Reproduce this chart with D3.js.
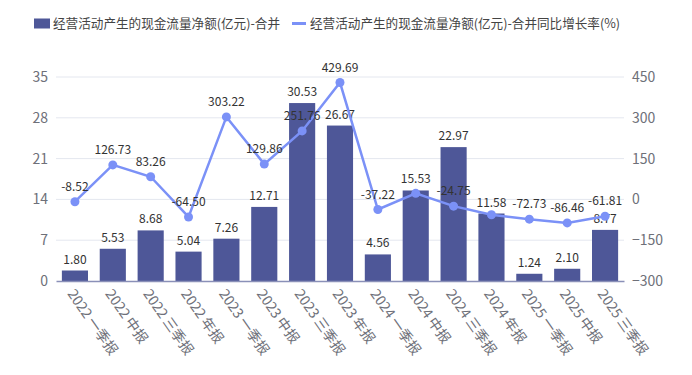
<!DOCTYPE html>
<html lang="zh">
<head>
<meta charset="utf-8">
<title>经营活动产生的现金流量净额</title>
<style>
    body { margin : 0; background : #fff; }
    svg text { font-family : "Noto Sans CJK SC", "Noto Sans", sans-serif; }
</style>
</head>
<body>
<div id="chart"></div>
<script src="https://cdn.jsdelivr.net/npm/d3@7"></script>
<script>

var categories = [ "2022 一季报" , "2022 中报" , "2022 三季报" , "2022 年报" ,
                   "2023 一季报" , "2023 中报" , "2023 三季报" , "2023 年报" ,
                   "2024 一季报" , "2024 中报" , "2024 三季报" , "2024 年报" ,
                   "2025 一季报" , "2025 中报" , "2025 三季报" ];
var cashflow = [ 1.80 , 5.53 , 8.68 , 5.04 , 7.26 , 12.71 , 30.53 , 26.67 , 4.56 , 15.53 , 22.97 , 11.58 , 1.24 , 2.10 , 8.77 ];
var growth = [ -8.52 , 126.73 , 83.26 , -64.50 , 303.22 , 129.86 , 251.76 , 429.69 , -37.22 , 22.19 , -24.75 , -56.58 , -72.73 , -86.46 , -61.81 ];
// labels the chart library dropped because they overlapped
var hiddenGrowthLabels = [ 9 , 11 ];
var leftTicks = [ 0 , 7 , 14 , 21 , 28 , 35 ];
var rightTicks = [ -300 , -150 , 0 , 150 , 300 , 450 ];
var seriesNames = [ "经营活动产生的现金流量净额(亿元)-合并" , "经营活动产生的现金流量净额(亿元)-合并同比增长率(%)" ];

var width = 692 , height = 375;
var barColor = "#4e5798" , lineColor = "#7b91f7";
var plot = { left : 56 , right : 624 , top : 77 , bottom : 281 };

var svg = d3.select( "#chart" ).append( "svg" )
    .attr( "width" , width )
    .attr( "height" , height );

var x = d3.scaleBand()
    .domain( categories )
    .range( [ plot.left , plot.right ] )
    .paddingInner( 0.31 )
    .paddingOuter( 0.155 );

var yLeft = d3.scaleLinear().domain( [ 0 , 35 ] ).range( [ plot.bottom , plot.top ] );
var yRight = d3.scaleLinear().domain( [ -300 , 450 ] ).range( [ plot.bottom , plot.top ] );

// grid
svg.append( "g" ).selectAll( "line" )
    .data( leftTicks.slice( 1 ) )
    .enter().append( "line" )
        .attr( "x1" , plot.left )
        .attr( "x2" , plot.right )
        .attr( "y1" , function( d ) { return yLeft( d ); } )
        .attr( "y2" , function( d ) { return yLeft( d ); } )
        .style( "stroke" , "#e4e7ef" )
        .style( "stroke-width" , 1 );

// left axis
var gl = svg.append( "g" )
    .attr( "transform" , "translate(" + ( plot.left - 8 ) + ",0)" )
    .call( d3.axisLeft( yLeft ).tickValues( leftTicks ).tickSize( 0 ).tickPadding( 0 ) );
gl.select( ".domain" ).remove();
gl.selectAll( "text" ).style( "font-size" , "14px" ).style( "fill" , "#6e7079" );

// right axis
var gr = svg.append( "g" )
    .attr( "transform" , "translate(" + ( plot.right + 8 ) + ",0)" )
    .call( d3.axisRight( yRight ).tickValues( rightTicks ).tickSize( 0 ).tickPadding( 0 ) );
gr.select( ".domain" ).remove();
gr.selectAll( "text" ).style( "font-size" , "14px" ).style( "fill" , "#6e7079" );

// bars
svg.append( "g" ).selectAll( "rect" )
    .data( cashflow )
    .enter().append( "rect" )
        .attr( "x" , function( d , i ) { return x( categories[i] ); } )
        .attr( "width" , x.bandwidth() )
        .attr( "y" , function( d ) { return yLeft( d ); } )
        .attr( "height" , function( d ) { return yLeft( 0 ) - yLeft( d ); } )
        .style( "fill" , barColor );

// x axis
var gx = svg.append( "g" )
    .attr( "transform" , "translate(0," + plot.bottom + ")" )
    .call( d3.axisBottom( x ).tickSize( 0 ).tickPadding( 0 ) );
gx.select( ".domain" ).style( "stroke" , "#8a90b8" ).style( "stroke-width" , 1.5 );
gx.selectAll( "text" )
    .style( "font-size" , "14px" )
    .style( "fill" , "#6e7079" )
    .style( "text-anchor" , "start" )
    .attr( "dy" , "0.35em" )
    .attr( "transform" , "translate(-4,10) rotate(55)" );

// bar labels
svg.append( "g" ).selectAll( "text" )
    .data( cashflow )
    .enter().append( "text" )
        .attr( "x" , function( d , i ) { return x( categories[i] ) + x.bandwidth() / 2; } )
        .attr( "y" , function( d ) { return yLeft( d ) - 7; } )
        .attr( "text-anchor" , "middle" )
        .style( "font-size" , "12px" )
        .style( "fill" , "#333" )
        .text( function( d ) { return d.toFixed( 2 ); } );

// line
var cx = function( d , i ) { return x( categories[i] ) + x.bandwidth() / 2; };
var line = d3.line()
    .x( cx )
    .y( function( d ) { return yRight( d ); } );

svg.append( "path" )
    .datum( growth )
    .attr( "d" , line )
    .style( "fill" , "none" )
    .style( "stroke" , lineColor )
    .style( "stroke-width" , 2.5 );

svg.append( "g" ).selectAll( "circle" )
    .data( growth )
    .enter().append( "circle" )
        .attr( "cx" , cx )
        .attr( "cy" , function( d ) { return yRight( d ); } )
        .attr( "r" , 4.5 )
        .style( "fill" , lineColor );

svg.append( "g" ).selectAll( "text" )
    .data( growth )
    .enter().append( "text" )
        .filter( function( d , i ) { return hiddenGrowthLabels.indexOf( i ) < 0; } )
        .attr( "x" , function( d ) { return cx( d , growth.indexOf( d ) ); } )
        .attr( "y" , function( d ) { return yRight( d ) - 11; } )
        .attr( "text-anchor" , "middle" )
        .style( "font-size" , "12px" )
        .style( "fill" , "#333" )
        .text( function( d ) { return d.toFixed( 2 ); } );

// legend
var legend = svg.append( "g" );
legend.append( "rect" )
    .attr( "x" , 34 ).attr( "y" , 18.5 )
    .attr( "width" , 16 ).attr( "height" , 10 )
    .style( "fill" , barColor );
legend.append( "text" )
    .attr( "x" , 53 ).attr( "y" , 23.5 )
    .attr( "dy" , "0.35em" )
    .style( "font-size" , "12.6px" )
    .style( "fill" , "#444" )
    .text( seriesNames[0] );
legend.append( "line" )
    .attr( "x1" , 292 ).attr( "x2" , 306 )
    .attr( "y1" , 23.5 ).attr( "y2" , 23.5 )
    .style( "stroke" , lineColor )
    .style( "stroke-width" , 3 );
legend.append( "text" )
    .attr( "x" , 310 ).attr( "y" , 23.5 )
    .attr( "dy" , "0.35em" )
    .style( "font-size" , "12.6px" )
    .style( "fill" , "#444" )
    .text( seriesNames[1] );

</script>
</body>
</html>
